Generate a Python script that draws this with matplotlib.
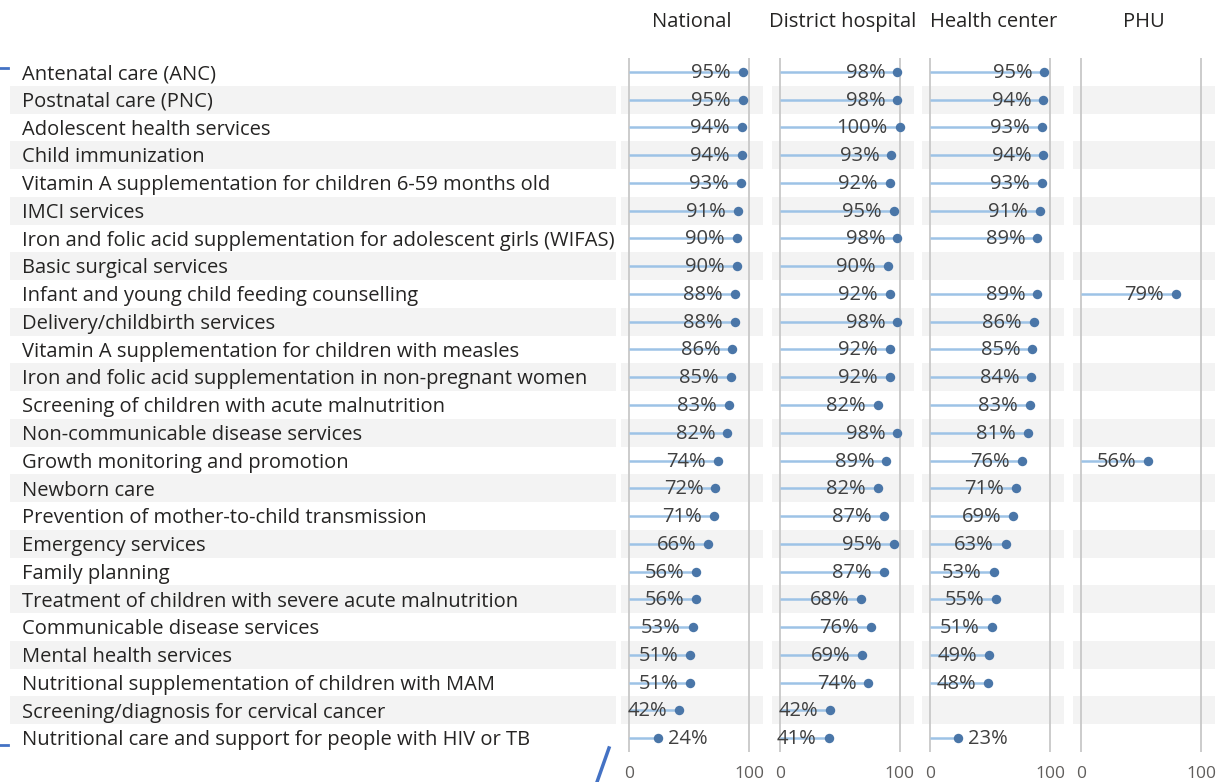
import matplotlib
matplotlib.use("Agg")
import matplotlib.pyplot as plt
from matplotlib.lines import Line2D

plt.rcParams['font.family'] = ['Open Sans', 'DejaVu Sans']

services = [
    "Antenatal care (ANC)",
    "Postnatal care (PNC)",
    "Adolescent health services",
    "Child immunization",
    "Vitamin A supplementation for children 6-59 months old",
    "IMCI services",
    "Iron and folic acid supplementation for adolescent girls (WIFAS)",
    "Basic surgical services",
    "Infant and young child feeding counselling",
    "Delivery/childbirth services",
    "Vitamin A supplementation for children with measles",
    "Iron and folic acid supplementation in non-pregnant women",
    "Screening of children with acute malnutrition",
    "Non-communicable disease services",
    "Growth monitoring and promotion",
    "Newborn care",
    "Prevention of mother-to-child transmission",
    "Emergency services",
    "Family planning",
    "Treatment of children with severe acute malnutrition",
    "Communicable disease services",
    "Mental health services",
    "Nutritional supplementation of children with MAM",
    "Screening/diagnosis for cervical cancer",
    "Nutritional care and support for people with HIV or TB",
]
national = [95, 95, 94, 94, 93, 91, 90, 90, 88, 88, 86, 85, 83, 82, 74, 72, 71, 66, 56, 56, 53, 51, 51, 42, 24]
district_hospital = [98, 98, 100, 93, 92, 95, 98, 90, 92, 98, 92, 92, 82, 98, 89, 82, 87, 95, 87, 68, 76, 69, 74, 42, 41]
health_center = [95, 94, 93, 94, 93, 91, 89, None, 89, 86, 85, 84, 83, 81, 76, 71, 69, 63, 53, 55, 51, 49, 48, None, 23]
phu = [None] * 8 + [79] + [None] * 5 + [56] + [None] * 10
levels = ["National", "District hospital", "Health center", "PHU"]
series = [national, district_hospital, health_center, phu]

W, H = 1218, 782
fig = plt.figure(figsize=(W / 100, H / 100), dpi=100)

top_px, bot_px = 58, 752
n = len(services)
band = "#f3f3f3"
fs = 14.5


def box(x0, x1):
    return [x0 / W, 1 - bot_px / H, (x1 - x0) / W, (bot_px - top_px) / H]


# category labels column
lab = fig.add_axes(box(10, 616))
lab.set_xlim(0, 606)
lab.set_ylim(n - 0.5, -0.5)
lab.axis("off")
for i, name in enumerate(services):
    if i % 2 == 1:
        lab.axhspan(i - 0.5, i + 0.5, color=band, lw=0, zorder=0)
    lab.text(12, i + 0.08, name, va="center", ha="left", fontsize=fs, color="#252423")

# one small lollipop panel per facility level
step = 150.67
for k, (level, vals) in enumerate(zip(levels, series)):
    x0 = 621 + k * step
    ax = fig.add_axes(box(x0, x0 + 142))
    ax.set_xlim(-8 / 1.2, 134 / 1.2)
    ax.set_ylim(n - 0.5, -0.5)
    for s in ax.spines.values():
        s.set_visible(False)
    ax.set_yticks([])
    ax.set_xticks([0, 100])
    ax.tick_params(axis="x", length=0, labelsize=12.5, labelcolor="#605e5c", pad=10)
    for i in range(n):
        if i % 2 == 1:
            ax.axhspan(i - 0.5, i + 0.5, color=band, lw=0, zorder=0)
    ax.axvline(0, color="#c8c8c8", lw=1.3, zorder=1)
    ax.axvline(100, color="#c8c8c8", lw=1.3, zorder=1)
    for i, v in enumerate(vals):
        if v is None:
            continue
        ax.plot([0, v], [i, i], color="#9dc3e6", lw=1.8, zorder=2, solid_capstyle="butt")
        ax.plot(v, i, "o", color="#4a76a8", ms=6.8, mec="none", zorder=4)
        if v >= 30:
            ax.annotate(f"{v}%", (v, i), xytext=(-12, -1), textcoords="offset pixels",
                        ha="right", va="center", fontsize=fs, color="#404040", zorder=3)
        else:
            ax.annotate(f"{v}%", (v, i), xytext=(10, -1), textcoords="offset pixels",
                        ha="left", va="center", fontsize=fs, color="#404040", zorder=3)
    fig.text((x0 + 71) / W, 1 - 22 / H, level, ha="center", va="center",
             fontsize=fs, color="#252423")

# selection marks at the left edge and bottom
blue = "#4472c4"
fig.add_artist(Line2D([0, 8 / W], [1 - 68 / H, 1 - 68 / H], color=blue, lw=2, transform=fig.transFigure))
fig.add_artist(Line2D([0, 8 / W], [1 - 745 / H, 1 - 745 / H], color=blue, lw=2, transform=fig.transFigure))
fig.add_artist(Line2D([609 / W, 597 / W], [1 - 748 / H, 0], color=blue, lw=2.5, transform=fig.transFigure))

fig.savefig("out.png", dpi=100)
